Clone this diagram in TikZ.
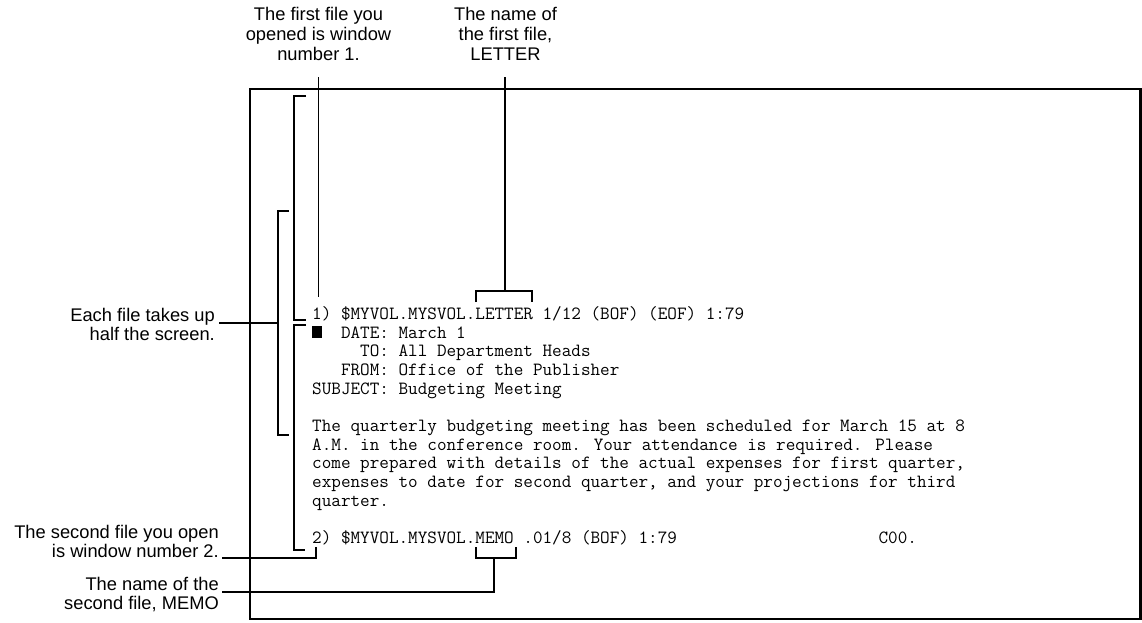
\documentclass[tikz,border=0pt]{standalone}
\usepackage{fontspec}
\setmainfont{Liberation Sans}
\newlength\chw
\settowidth\chw{\ttfamily\fontsize{18pt}{18pt}\selectfont M}
\pgfmathsetmacro\ttsize{18*9.6/\chw}
\newcommand\screenfont{\ttfamily\fontsize{\ttsize pt}{18.7pt}\selectfont}
\tikzset{
  lbl/.style={font=\fontsize{18.3pt}{18.5pt}\selectfont, inner sep=0pt},
  toplbl/.style={font=\fontsize{18.3pt}{20pt}\selectfont, inner sep=0pt, align=center, anchor=base},
  scr/.style={font=\screenfont, inner sep=0pt, anchor=base west},
  conn/.style={line width=1.1pt, line cap=butt, line join=miter},
  frame/.style={line width=2.6pt}
}
\begin{document}
\begin{tikzpicture}[x=1pt,y=-1pt]
\useasboundingbox (0,0) rectangle (1142,622);
% screen frame
\draw[frame] (250,89) rectangle (1140.5,619);
% screen text
\node[scr] (r0) at (312,319.5) {1) \$MYVOL.MYSVOL.LETTER 1/12 (BOF) (EOF) 1:79};
\fill (312,326) rectangle (322,337.5);
\node[scr] (r1) at (340.8,338.2) {DATE: March 1};
\node[scr] (r2) at (360,356.8) {TO: All Department Heads};
\node[scr] (r3) at (340.8,375.5) {FROM: Office of the Publisher};
\node[scr] (r4) at (312,394.1) {SUBJECT: Budgeting Meeting};
\node[scr] (r6) at (312,431.5) {The quarterly budgeting meeting has been scheduled for March 15 at 8};
\node[scr] (r7) at (312,450.1) {A.M. in the conference room. Your attendance is required. Please};
\node[scr] (r8) at (312,468.8) {come prepared with details of the actual expenses for first quarter,};
\node[scr] (r9) at (312,487.4) {expenses to date for second quarter, and your projections for third};
\node[scr] (r10) at (312,506.1) {quarter.};
\node[scr] (r12) at (312,543.4) {2) \$MYVOL.MYSVOL.MEMO .01/8 (BOF) 1:79};
\node[scr] (r12b) at (878.4,543.4) {C00.};
% labels (anchor base = baseline of the last line)
\node[toplbl] (top1) at (318.5,60) {The first file you\\opened is window\\number 1.};
\node[toplbl] (top2) at (505.5,60) {The name of\\the first file,\\LETTER};
\node[lbl, align=right, anchor=base east] (left1) at (215,340) {Each file takes up\\half the screen.};
\node[lbl, align=right, anchor=base east] (bot1) at (219,557) {The second file you open\\is window number 2.};
\node[lbl, align=right, anchor=base east] (bot2) at (219,609) {The name of the\\second file, MEMO};
% brackets
\draw[conn] (306,96) -- (294,96) -- (294,320) -- (306,320);
\draw[conn] (289,211) -- (278,211) -- (278,435) -- (289,435);
\draw[conn] (306,325) -- (294,325) -- (294,550) -- (305,550);
\draw[conn] (476,302) -- (476,291) -- (532,291) -- (532,302);
\draw[conn] (476,547) -- (476,558) -- (516,558) -- (516,547);
% connectors
\coordinate (t1a) at (318.5,77);
\coordinate (t1b) at (318.5,297);
\draw[conn] (t1a) -- (t1b);
\coordinate (t2a) at (505,77);
\coordinate (t2b) at (505,291);
\draw[conn] (t2a) -- (t2b);
\coordinate (l1a) at (219,323);
\coordinate (l1b) at (278,323);
\draw[conn] (l1a) -- (l1b);
\coordinate (b1a) at (222,558);
\coordinate (b1b) at (316,547);
\draw[conn] (b1a) -| (b1b);
\coordinate (b2a) at (222,592);
\coordinate (b2b) at (494,558);
\draw[conn] (b2a) -| (b2b);
\end{tikzpicture}
\end{document}
